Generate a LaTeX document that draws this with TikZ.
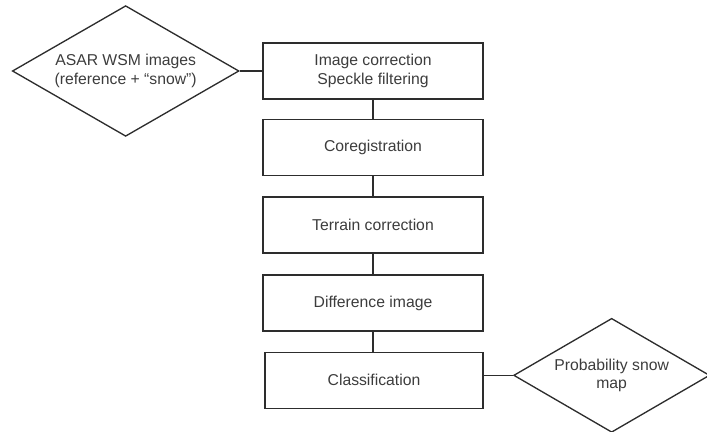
\documentclass[tikz,border=0pt]{standalone}
\usepackage{fontspec}
\setmainfont{Liberation Sans}
\usepackage{tikz}
\usetikzlibrary{shapes,positioning}
\definecolor{flowline}{RGB}{45,45,45}
\definecolor{flowtext}{RGB}{60,60,60}
\tikzstyle{stepbox} = [rectangle, minimum width=165pt, minimum height=42pt, align=center, draw=flowline, line width=1pt, text=flowtext, font=\fontsize{11.8}{14}\selectfont]
\tikzstyle{datanode} = [diamond, inner sep=0pt, align=center, draw=flowline, line width=1pt, text=flowtext, font=\fontsize{11.8}{14}\selectfont]
\tikzstyle{link} = [line width=1pt, color=flowline]

\begin{document}
\begin{tikzpicture}
\useasboundingbox (0,0) rectangle (530.25pt,-324pt);
% Processing chain
\node (imgcorr) [stepbox] at (279.75pt,-53.25pt) {Image correction\\Speckle filtering};
\node (coreg) [stepbox, below=14.5pt of imgcorr] {Coregistration};
\node (terrain) [stepbox, below=15pt of coreg] {Terrain correction};
\node (diffimg) [stepbox, below=15.5pt of terrain] {Difference image};
\node (classif) [stepbox, below=15pt of diffimg, xshift=0.75pt, minimum width=163.5pt] {Classification};

% Input and output
\node (asar) [datanode, aspect=1.73, minimum width=170pt, minimum height=98pt, left=17pt of imgcorr] {ASAR WSM images\\(reference + “snow”)};
\node (probmap) [datanode, aspect=1.72, minimum width=147pt, minimum height=85.5pt, right=22pt of classif, yshift=3.75pt] {Probability snow\\map};

% Links
\draw[link] (asar) -- (imgcorr);
\draw[link] (imgcorr) -- (coreg);
\draw[link] (coreg) -- (terrain);
\draw[link] (terrain) -- (diffimg);
\draw[link] (diffimg.south) -- (diffimg.south |- classif.north);
\draw[link] (probmap.west) -- (probmap.west -| classif.east);
\end{tikzpicture}
\end{document}
